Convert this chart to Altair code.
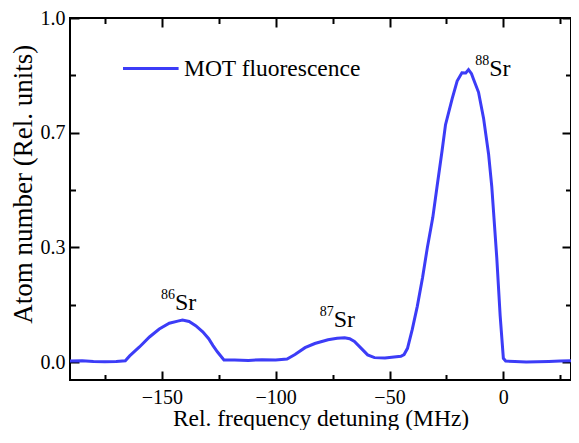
import altair as alt
import pandas as pd

# ---- data ----
freq = [-190.3, -185, -180, -175, -170, -166, -164.1, -159.8, -155.4, -151.1,
        -146.7, -143, -140.9, -138, -135.1, -132, -129.4, -127.5, -125.6, -122.7,
        -118, -112, -106, -100, -95, -91.5, -87.1, -82.8, -77.0, -73,
        -69.7, -67.5, -65.4, -62.4, -59.6, -56.6, -52, -48, -45, -43.6,
        -42.1, -40, -37.8, -35.5, -33.4, -31, -29.1, -26.9, -25.4, -22.5,
        -20.3, -18.2, -16.5, -15.3, -14, -13.1, -10.9, -8.7, -6.5, -5.1,
        -2.9, -1.4, 0, 1, 5, 10, 15, 20, 25, 29.7]
signal = [0.003, 0.004, 0.002, 0.001, 0.002, 0.004, 0.018, 0.044, 0.073, 0.096,
          0.113, 0.119, 0.122, 0.118, 0.106, 0.088, 0.068, 0.048, 0.030, 0.006,
          0.006, 0.005, 0.007, 0.006, 0.009, 0.022, 0.042, 0.054, 0.065, 0.069,
          0.071, 0.068, 0.060, 0.040, 0.021, 0.013, 0.012, 0.015, 0.017, 0.022,
          0.040, 0.095, 0.162, 0.245, 0.332, 0.420, 0.511, 0.615, 0.690, 0.765,
          0.817, 0.841, 0.840, 0.850, 0.838, 0.822, 0.784, 0.709, 0.605, 0.511,
          0.304, 0.134, 0.011, 0.003, 0.002, 0.000, 0.001, 0.002, 0.003, 0.004]
series_name = "MOT fluorescence"

iso_mass = ["86", "87", "88"]
iso_x = [-144.2, -74.5, -6.2]
iso_y = [0.151, 0.101, 0.831]
iso_elem = ["Sr", "Sr", "Sr"]

x_major = [-150, -100, -50, 0]
x_minor = [-175, -125, -75, -25, 25]
y_major = [0, 1 / 3, 2 / 3, 1]
y_minor = [1 / 6, 1 / 2, 5 / 6]

df = pd.DataFrame({"f": freq, "s": signal})
iso_df = pd.DataFrame({"mass": iso_mass, "x": iso_x, "y": iso_y, "elem": iso_elem})
legend_df = pd.DataFrame({"name": [series_name]})

FONT = "Liberation Serif"
BLUE = "#3c3cf7"
LW = 2
W, H = 501, 362
xscale = alt.Scale(domain=[-190.3, 29.7], nice=False, zero=False)
yscale = alt.Scale(domain=[-0.052, 1.0], nice=False, zero=False)


def tick_axis(orient, values, size):
    return alt.Axis(orient=orient, values=values, tickSize=size, offset=-size,
                    domain=False, grid=False, labels=False, title=None,
                    tickColor="black", tickWidth=LW)


x_main = alt.Axis(orient="bottom", values=x_major, tickSize=9, offset=-9,
                  domain=False, grid=False, format="d",
                  labelFont=FONT, labelFontSize=20, labelColor="black",
                  labelPadding=7, labelFlush=False,
                  tickColor="black", tickWidth=LW,
                  title="Rel. frequency detuning (MHz)", titleFont=FONT,
                  titleFontSize=23.5, titleFontWeight="normal", titleColor="black",
                  titleX=W / 2, titleY=54, titleBaseline="alphabetic",
                  titleAlign="center")
y_main = alt.Axis(orient="left", values=y_major, tickSize=9, offset=-9,
                  domain=False, grid=False, format=".1f",
                  labelFont=FONT, labelFontSize=20, labelColor="black",
                  labelPadding=5, labelFlush=False,
                  tickColor="black", tickWidth=LW,
                  title="Atom number (Rel. units)", titleFont=FONT,
                  titleFontSize=27, titleFontWeight="normal", titleColor="black",
                  titleX=-48, titleY=165.7, titleAngle=270,
                  titleBaseline="alphabetic", titleAlign="center")

line = alt.Chart(df).mark_line(strokeWidth=3, color=BLUE).encode(
    x=alt.X("f:Q", scale=xscale, axis=x_main),
    y=alt.Y("s:Q", scale=yscale, axis=y_main),
)


def tick_layer(xo, xv, xs, yo, yv, ys):
    return alt.Chart(df).mark_point(opacity=0).encode(
        x=alt.X("f:Q", scale=xscale, axis=tick_axis(xo, xv, xs)),
        y=alt.Y("s:Q", scale=yscale, axis=tick_axis(yo, yv, ys)),
    )


t1 = tick_layer("bottom", x_minor, 5.5, "left", y_minor, 5.5)
t2 = tick_layer("top", x_major, 9, "right", y_major, 9)
t3 = tick_layer("top", x_minor, 5.5, "right", y_minor, 5.5)

sr = alt.Chart(iso_df).mark_text(align="left", baseline="alphabetic", font=FONT,
                                 fontSize=24, color="black").encode(
    x=alt.X("x:Q", scale=xscale, axis=None),
    y=alt.Y("y:Q", scale=yscale, axis=None),
    text="elem:N",
)
sup = alt.Chart(iso_df).mark_text(align="right", baseline="alphabetic", font=FONT,
                                  fontSize=14, color="black", dy=-11.5).encode(
    x=alt.X("x:Q", scale=xscale, axis=None),
    y=alt.Y("y:Q", scale=yscale, axis=None),
    text="mass:N",
)

# legend (line sample + label) in the upper-left of the plot
leg_line = alt.Chart(legend_df).mark_rule(color=BLUE, strokeWidth=3).encode(
    x=alt.value(53), x2=alt.value(108.6), y=alt.value(50.6),
)
leg_text = alt.Chart(legend_df).mark_text(align="left", baseline="alphabetic",
                                          font=FONT, fontSize=23.5,
                                          color="black").encode(
    x=alt.value(114), y=alt.value(58.2), text="name:N",
)

chart = alt.layer(line, t1, t2, t3, sr, sup, leg_line, leg_text).resolve_axis(
    x="independent", y="independent"
).properties(
    width=W, height=H,
    autosize=alt.AutoSizeParams(type="none"),
    padding={"left": 62, "top": 10, "right": 0, "bottom": 50},
).configure_view(stroke="black", strokeWidth=LW)

chart.save("out.html", embed_options={"renderer": "svg", "actions": False})
